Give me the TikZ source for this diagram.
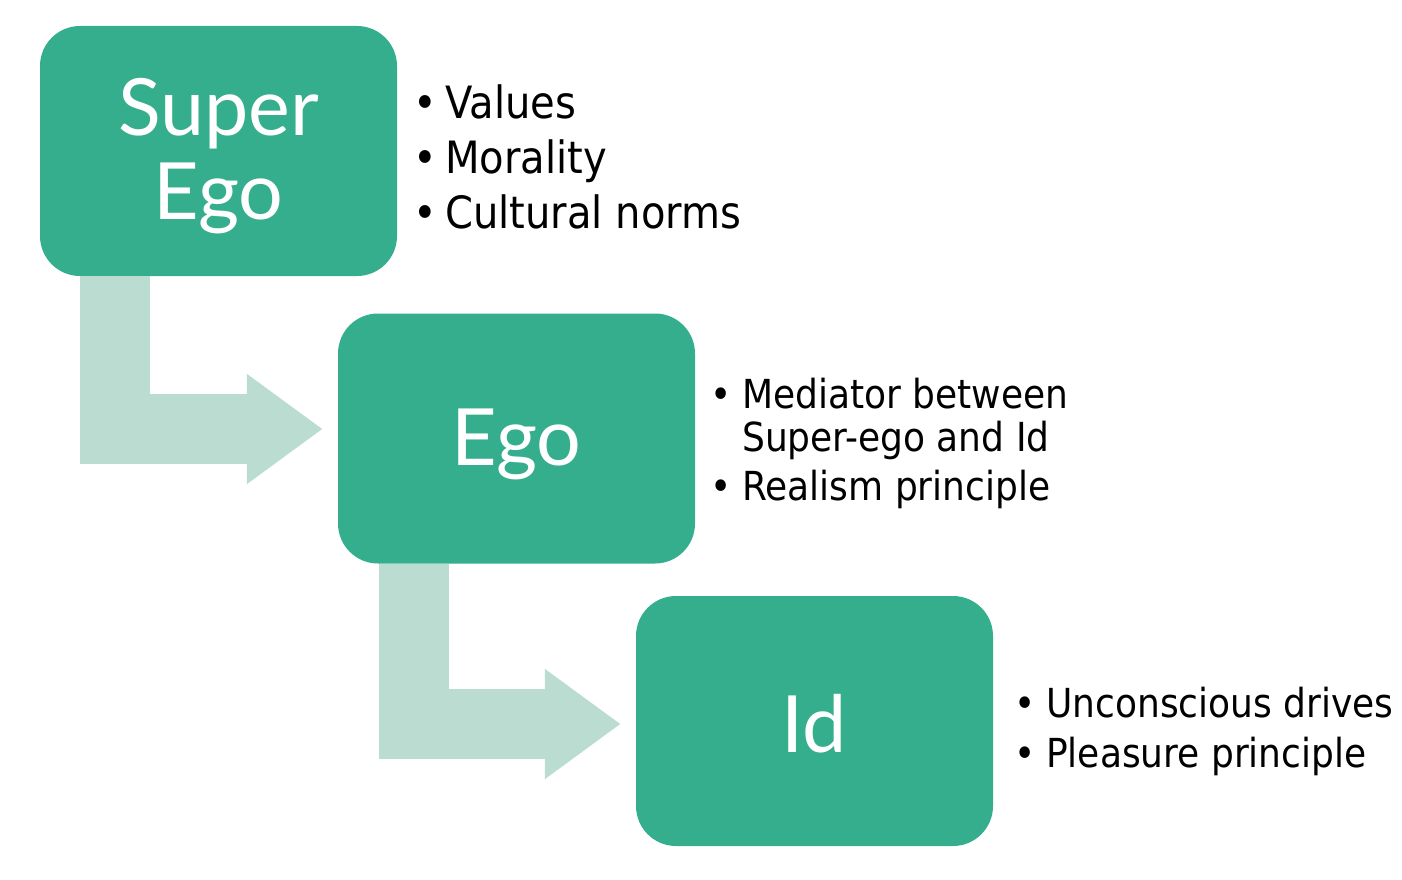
\documentclass[tikz,border=0pt]{standalone}
\usepackage{fontspec}
\setmainfont{DejaVu Sans}[FakeStretch=0.9]
\newfontfamily\boxfont{Lato}
\usetikzlibrary{arrows.meta,positioning,calc}
\definecolor{egogreen}{HTML}{35AE8D}
\definecolor{flowgreen}{HTML}{BBDCD0}
\newcommand{\bul}{\makebox[32pt][l]{•}}

\begin{document}
\begin{tikzpicture}[x=1pt, y=-1pt,
	ebox/.style = {fill = egogreen, rounded corners = 40pt, minimum width = 357pt, minimum height = 250pt},
	etext/.style = {text = white, align = center, font = \boxfont\fontsize{79}{84}\selectfont},
	flow/.style = {draw = flowgreen, line width = 70pt, line join = miter, -{Triangle[length = 76pt, width = 105pt]}, shorten > = 15pt},
	item/.style = {anchor = base west, inner sep = 0pt, font = \fontsize{40}{50}\selectfont}]
	\useasboundingbox (0,0) rectangle (1402,880);
	% the three boxes
	\node[ebox] (super) at (218.5,151) {};
	\node[ebox] (ego) at (516.5,438.5) {};
	\node[ebox] (id) at (814.5,721) {};
	\node[etext] (super text) at ([yshift = -5pt]super.center) {Super\\Ego};
	\node[etext] (ego text) at ([yshift = -6pt]ego.center) {Ego};
	\node[etext] (id text) at ([yshift = -3pt]id.center) {Id};
	% bent arrows between them
	\draw[flow] ([xshift = 75.5pt]super.south west) |- ([yshift = 9.5pt]ego.west);
	\draw[flow] ([xshift = 76.5pt]ego.south west) |- ([yshift = -3pt]id.west);
	% lists
	\foreach \t [count = \i] in {Values, Morality, Cultural norms}
		\node[item, font = \fontsize{44.5}{50}\selectfont] (sup\i) at (413, 63+55*\i) {\bul\t};
	\node[item] (ego1) at (710, 408) {\bul Mediator between};
	\node[item] (ego2) at (710, 451) {\hphantom{\bul}Super-ego and Id};
	\node[item] (ego3) at (710, 500) {\bul Realism principle};
	\foreach \t [count = \i] in {Unconscious drives, Pleasure principle}
		\node[item] (id\i) at (1014, 667+50*\i) {\bul\t};
\end{tikzpicture}
\end{document}
